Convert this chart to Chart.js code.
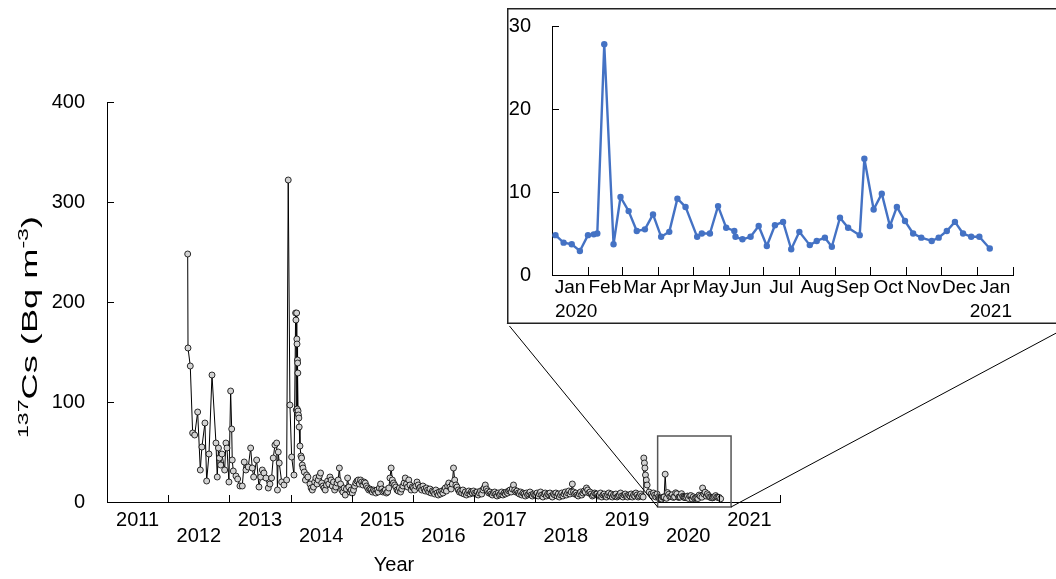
<!DOCTYPE html>
<html><head><meta charset="utf-8">
<script src="https://cdn.jsdelivr.net/npm/chart.js@4.4.1/dist/chart.umd.min.js"></script>
<style>
html,body{margin:0;padding:0;background:#fff;}
#wrap{position:relative;width:1056px;height:579px;overflow:hidden;background:#fff;}
#main{position:absolute;left:0;top:0;}
#inset{position:absolute;left:507px;top:8px;}
</style></head><body>
<div id="wrap">
<canvas id="main" width="1056" height="579"></canvas>
<canvas id="inset" width="549" height="318"></canvas>
</div>
<script>
// ---------- DATA ----------
const yearLabels = ['2011','2012','2013','2014','2015','2016','2017','2018','2019','2020','2021'];
const yTicksMain = [0,100,200,300,400];

// irregular early samples (decimal year)
const earlyYears = [2012.319,2012.324,2012.361,2012.400,2012.433,2012.482,2012.525,2012.551,2012.601,2012.629,
  2012.667,2012.716,2012.781,2012.802,2012.822,2012.838,2012.858,2012.879,2012.923,2012.944,
  2012.961,2012.993,2013.021,2013.038,2013.047,2013.064,2013.108,2013.136,2013.173,2013.211,
  2013.243,2013.271,2013.309,2013.348,2013.374,2013.397,2013.446,2013.484,2013.512,2013.538,
  2013.565,2013.598,2013.636,2013.663,2013.690,2013.717,2013.745,2013.773,2013.786,2013.799,
  2013.815,2013.855,2013.892,2013.936,2013.962,2013.990,2014.018,2014.056,2014.083,2014.088,
  2014.093,2014.100,2014.103,2014.106,2014.109,2014.113,2014.116,2014.119,2014.123,2014.129,
  2014.136,2014.141,2014.154,2014.170,2014.181,2014.191,2014.203,2014.224,2014.243,2014.263,
  2014.284];
const earlyValues = [248,154,136,69,67,90,32,55,79,21,
  48,127,59,25,54,44,37,48,32,59,
  54,20,111,73,42,31,26,23,16,16,
  40,32,35,54,34,25,42,15,25,32,
  29,24,14,18,24,44,57,59,12,50,
  39,20,17,22,322,97,45,27,189,182,
  92,189,163,158,93,142,139,129,91,87,
  84,75,56,46,44,37,34,30,22,27,
  25];

// weekly samples per calendar year (null = covered by other arrays)
const weekly2014 = [null,null,null,null,null,null,null,null,null,null,null,null,null,null,null,null,
  18,14,12,15,20,24,18,22,26,29,19,16,14,12,17,21,18,25,22,16,20,12,15,19,22,34,18,12,10,14,7,13,24,15,10,12];
const weekly2015 = [9,12,16,19,21,22,18,22,20,17,20,19,16,14,12,13,12,10,12,11,9,12,10,14,18,13,10,11,12,9,
  10,14,24,34,22,19,17,15,12,11,14,10,13,16,19,24,18,15,22,17,12,15];
const weekly2016 = [14,12,16,20,17,14,15,12,16,13,11,14,12,10,13,9,11,10,8,12,9,7,10,8,11,9,12,14,11,16,
  19,15,13,18,34,22,17,15,12,10,11,9,12,8,10,7,9,11,8,10,9,11];
const weekly2017 = [9,8,10,7,9,11,8,12,14,17,13,11,9,10,8,7,9,10,8,6,9,7,8,10,7,9,8,10,9,11,
  12,10,13,17,12,10,11,9,8,10,7,9,8,6,9,7,8,10,7,6,8,7];
const weekly2018 = [7,9,6,8,10,7,5,8,9,6,8,7,9,6,5,8,7,9,6,8,5,7,9,6,8,10,7,9,11,8,
  10,18,10,8,9,7,6,8,10,7,9,11,10,14,12,9,10,8,6,7,9,8];
const weekly2019 = [8,6,7,9,5,7,8,6,5,7,9,6,8,5,7,6,8,5,6,7,9,6,5,7,8,6,5,7,6,8,
  5,7,6,9,7,5,6,8,6,null,null,null,null,null,null,null,8,6,9,7,5,8];
const oct2019Years = [2019.763,2019.774,2019.784,2019.792,2019.801,2019.815,2019.828,2019.861];
const oct2019Values = [5,44,39,34,27,22,17,10];

// 2020 weekly data (days since 2020-01-01) shown in the inset
const insetDays = [3,10,17,24,31,36,39,45,53,59,66,73,80,87,94,101,108,115,125,129,136,143,150,157,158,
  164,171,178,185,192,199,206,213,222,228,235,241,248,255,265,269,277,284,291,297,304,311,318,327,333,
  340,347,354,361,368,377];
const insetValues = [4.8,3.9,3.7,2.9,4.8,4.9,5.0,27.8,3.7,9.4,7.7,5.3,5.5,7.3,4.6,5.2,9.2,8.2,4.6,5.0,
  5.0,8.3,5.7,5.3,4.6,4.3,4.6,5.9,3.5,6.0,6.4,3.1,5.2,3.6,4.1,4.5,3.4,6.9,5.7,4.8,
  14.0,7.9,9.8,5.9,8.2,6.5,5.0,4.5,4.1,4.5,5.3,6.4,5.0,4.6,4.6,3.2];
const monthLabels = ['Jan','Feb','Mar','Apr','May','Jun','Jul','Aug','Sep','Oct','Nov','Dec','Jan'];
const monthStartDays = [0,31,60,91,121,152,182,213,244,274,305,335,366,397];
const insetYearLabels = ['2020','2021'];
const insetYTicks = [0,10,20,30];
const zoomYears = [2020.0, 2021.2];
const zoomValues = [-5, 66];

// ---------- BUILD ----------
const FONT = '"Liberation Sans", Arial, sans-serif';
const mainPoints = [];
earlyYears.forEach((t,i)=>mainPoints.push({x:t, y:earlyValues[i]}));
[[2014,weekly2014],[2015,weekly2015],[2016,weekly2016],[2017,weekly2017],[2018,weekly2018],[2019,weekly2019]]
  .forEach(([yr,arr])=>arr.forEach((v,w)=>{ if(v!==null) mainPoints.push({x:yr+(w+0.5)/52, y:v}); }));
oct2019Years.forEach((t,i)=>mainPoints.push({x:t, y:oct2019Values[i]}));
insetDays.forEach((d,i)=>mainPoints.push({x:2020+d/366, y:insetValues[i]}));
mainPoints.sort((a,b)=>a.x-b.x);

function seg(ctx,x1,y1,x2,y2){ctx.beginPath();ctx.moveTo(x1,y1);ctx.lineTo(x2,y2);ctx.stroke();}

const mainDecor = {
  id:'mainDecor',
  afterDraw(chart){
    const {ctx, chartArea:a} = chart; const x=chart.scales.x, y=chart.scales.y;
    ctx.save();
    ctx.strokeStyle='#000'; ctx.lineWidth=1;
    for(let yr=2011; yr<=2022; yr++){ const px=Math.round(x.getPixelForValue(yr))+0.5; seg(ctx,px,a.bottom,px,a.bottom-7); }
    yTicksMain.forEach(v=>{ const py=Math.round(y.getPixelForValue(v))+0.5; seg(ctx,a.left,py,a.left+7,py); });
    ctx.fillStyle='#000'; ctx.font='20px '+FONT; ctx.textAlign='center'; ctx.textBaseline='middle';
    yearLabels.forEach((lab,i)=>{ ctx.fillText(lab, x.getPixelForValue(2011+i+0.5), i%2===0 ? a.bottom+18 : a.bottom+34); });
    ctx.fillText('Year', 394, 565);
    // y title with superscripts (stretched along the text direction as in the source figure)
    ctx.save(); ctx.translate(37, 327); ctx.rotate(-Math.PI/2);
    const parts=[['137',14,-9],['Cs (Bq m',22,0],['-3',14,-9],[')',22,0]];
    let w=0; parts.forEach(p=>{ctx.font=p[1]+'px '+FONT; w+=ctx.measureText(p[0]).width;});
    const sx = 222 / w; ctx.scale(sx, 1);
    let xx=-w/2; ctx.textAlign='left'; ctx.textBaseline='alphabetic';
    parts.forEach(p=>{ctx.font=p[1]+'px '+FONT; ctx.fillText(p[0],xx,p[2]); xx+=ctx.measureText(p[0]).width;});
    ctx.restore();
    // zoom box and connectors
    const bx0=x.getPixelForValue(zoomYears[0]), bx1=x.getPixelForValue(zoomYears[1]);
    const byT=y.getPixelForValue(zoomValues[1]), byB=y.getPixelForValue(zoomValues[0]);
    ctx.strokeStyle='#555'; ctx.lineWidth=1.5; ctx.strokeRect(bx0,byT,bx1-bx0,byB-byT);
    ctx.strokeStyle='#000'; ctx.lineWidth=1;
    seg(ctx,bx0,byB,507,323); seg(ctx,bx1,byB,1075,323);
    ctx.restore();
  }
};

new Chart(document.getElementById('main'), {
  type:'line',
  data:{datasets:[{data:mainPoints, borderColor:'#000', borderWidth:1, tension:0, fill:false, borderJoinStyle:'round',
    pointRadius:3, pointBackgroundColor:'#d3d3d3', pointBorderColor:'#000', pointBorderWidth:0.8}]},
  options:{
    responsive:false, animation:false, devicePixelRatio:1,
    layout:{padding:{left:0,right:276,top:102,bottom:0}},
    plugins:{legend:{display:false}, tooltip:{enabled:false}},
    scales:{
      x:{type:'linear', min:2011, max:2022, grid:{display:false, drawTicks:false}, border:{color:'#000',width:1},
         ticks:{display:false}, afterFit(s){s.height=77;}},
      y:{type:'linear', min:0, max:400, grid:{display:false, drawTicks:false}, border:{color:'#000',width:1},
         afterBuildTicks(s){s.ticks=yTicksMain.map(v=>({value:v}));},
         ticks:{color:'#000', padding:22, font:{family:FONT, size:20}},
         afterFit(s){s.width=107; s.paddingTop=0; s.paddingBottom=0;}}
    }
  },
  plugins:[mainDecor]
});

const insetDecor = {
  id:'insetDecor',
  beforeDraw(chart){
    const {ctx,width,height}=chart;
    ctx.save(); ctx.fillStyle='#fff'; ctx.fillRect(0,0,width,height);
    ctx.strokeStyle='#222'; ctx.lineWidth=1.5;
    seg(ctx,0,0.75,width,0.75); seg(ctx,0.75,0,0.75,315.25); seg(ctx,0,315.25,width,315.25);
    ctx.restore();
  },
  afterDraw(chart){
    const {ctx, chartArea:a}=chart; const x=chart.scales.x, y=chart.scales.y;
    ctx.save(); ctx.strokeStyle='#000'; ctx.lineWidth=1;
    monthStartDays.forEach(d=>{const px=Math.round(x.getPixelForValue(d))+0.5; seg(ctx,px,a.bottom,px,a.bottom-8);});
    insetYTicks.forEach(v=>{const py=Math.round(y.getPixelForValue(v))+0.5; seg(ctx,a.left,py,a.left+7,py);});
    ctx.fillStyle='#000'; ctx.font='19px '+FONT; ctx.textBaseline='middle'; ctx.textAlign='center';
    monthLabels.forEach((m,i)=>{ ctx.fillText(m, x.getPixelForValue((monthStartDays[i]+monthStartDays[i+1])/2), a.bottom+13); });
    ctx.textAlign='left'; ctx.fillText(insetYearLabels[0], x.getPixelForValue(monthStartDays[0])+3, a.bottom+37);
    ctx.textAlign='right'; ctx.fillText(insetYearLabels[1], x.getPixelForValue(monthStartDays[13])-1, a.bottom+37);
    ctx.restore();
  }
};

new Chart(document.getElementById('inset'), {
  type:'line',
  data:{datasets:[{data:insetDays.map((d,i)=>({x:d,y:insetValues[i]})), borderColor:'#4472C4', borderWidth:2.4,
    tension:0, fill:false, borderJoinStyle:'round', pointRadius:3.2, pointBackgroundColor:'#4472C4', pointBorderWidth:0}]},
  options:{
    responsive:false, animation:false, devicePixelRatio:1,
    layout:{padding:{left:0,right:43,top:18,bottom:0}},
    plugins:{legend:{display:false}, tooltip:{enabled:false}},
    scales:{
      x:{type:'linear', min:0, max:397, grid:{display:false, drawTicks:false}, border:{color:'#000',width:1},
         ticks:{display:false}, afterFit(s){s.height=51;}},
      y:{type:'linear', min:0, max:30, grid:{display:false, drawTicks:false}, border:{color:'#000',width:1},
         afterBuildTicks(s){s.ticks=insetYTicks.map(v=>({value:v}));},
         ticks:{color:'#000', padding:21, font:{family:FONT, size:20}},
         afterFit(s){s.width=45; s.paddingTop=0; s.paddingBottom=0;}}
    }
  },
  plugins:[insetDecor]
});
</script>
</body></html>
